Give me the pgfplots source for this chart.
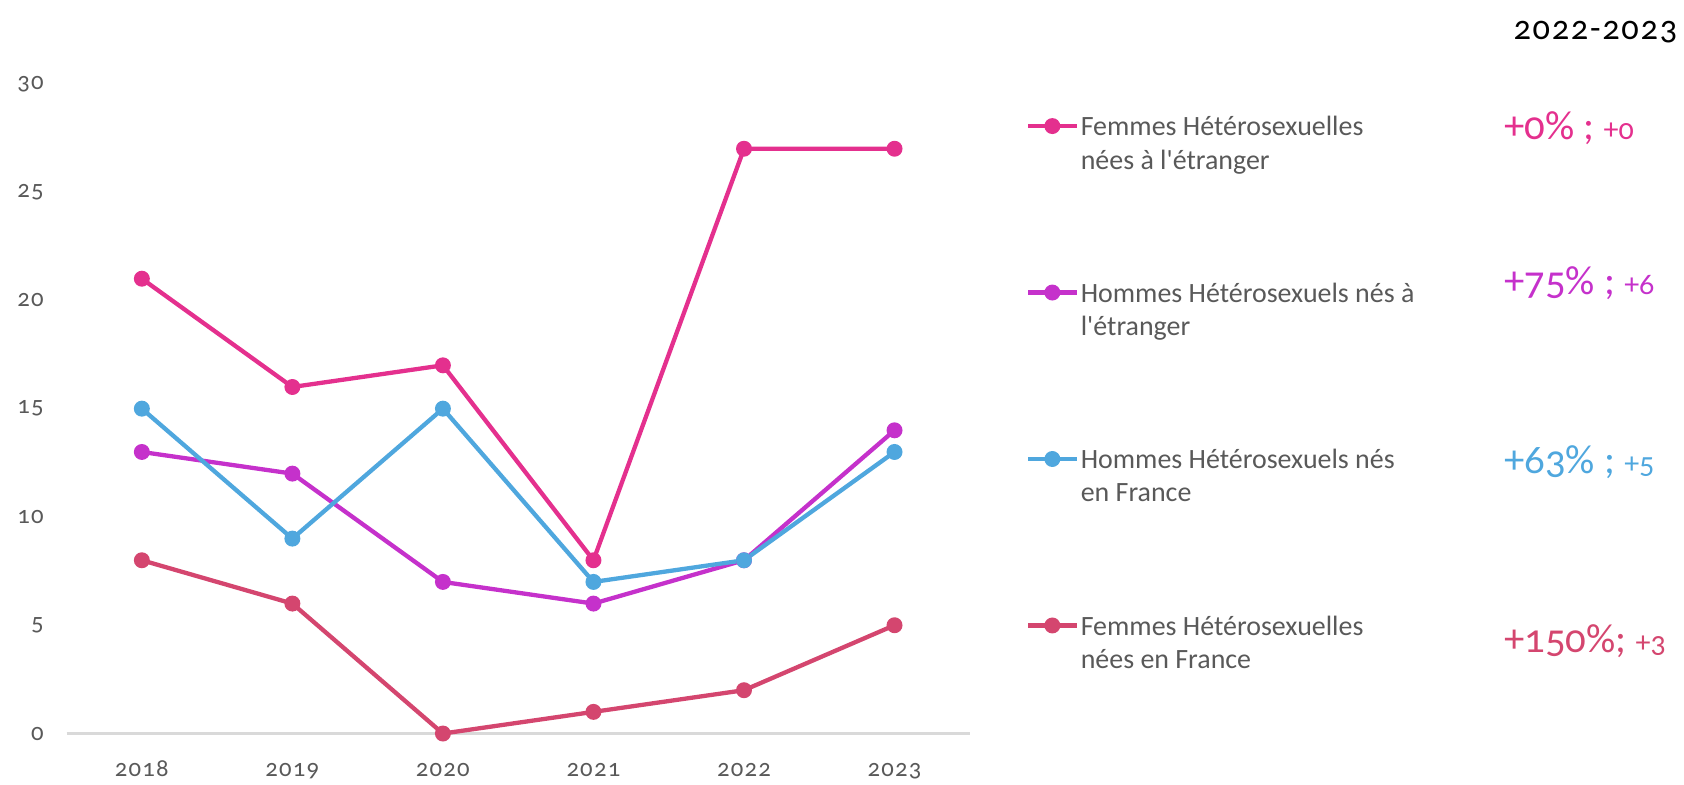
\documentclass[border=0pt]{standalone}
\usepackage{pgfplots}
\pgfplotsset{compat=1.18}
\usepackage{fontspec}
\setmainfont{Carlito}[Ligatures=TeXOff]
\newfontfamily\numfont{Carlito}[Numbers=OldStyle, LetterSpace=5]
\newfontfamily\bignum{Carlito}[Numbers=OldStyle]

\definecolor{fetr}{HTML}{E4308E}
\definecolor{hetr}{HTML}{C531CB}
\definecolor{hfr}{HTML}{4FA7DE}
\definecolor{ffr}{HTML}{D4466F}
\definecolor{txt}{HTML}{595959}

\begin{document}
\begin{tikzpicture}
\useasboundingbox (-31pt,-23.5pt) rectangle (753pt,341.5pt);
\begin{axis}[
  name=ax, at={(0,0)}, anchor=south west,
  scale only axis, width=420.5pt, height=302.5pt,
  xmin=2017.5, xmax=2023.5, ymin=0, ymax=30,
  xtick={2018,...,2023}, ytick={0,5,...,30},
  axis x line*=bottom, axis y line*=left,
  x axis line style={draw=black!15, line width=1pt, -},
  y axis line style={draw=none},
  major tick length=0pt,
  /pgf/number format/1000 sep={},
  /pgf/number format/assume math mode=true,
  tick label style={font=\numfont\fontsize{11.5}{13}\selectfont, text=txt, inner sep=0pt},
  xticklabel style={anchor=base, yshift=-20pt},
  yticklabel style={anchor=east, xshift=-10.5pt},
  clip=false,
  every axis plot/.append style={line width=2pt, mark=*, mark size=2.7pt},
  legend cell align=left,
  legend style={at={(1.0618,0.9521)}, anchor=north west, draw=none, fill=none,
    inner sep=0pt, font=\fontsize{13}{15.5}\selectfont, text=txt, row sep=31.5pt,
    nodes={inner sep=1pt, text height=24pt, text depth=20pt, align=left},
    cells={anchor=base west}},
  legend image code/.code={\draw[#1, mark repeat=2, mark phase=2]
    plot coordinates {(0pt,20pt)(11.25pt,20pt)(22.5pt,20pt)};},
]
% Femmes nées à l'étranger
\addplot[color=fetr] coordinates {(2018,21)(2019,16)(2020,17)(2021,8)(2022,27)(2023,27)};
\addlegendentry{Femmes Hétérosexuelles\\nées à l'étranger}
% Hommes nés à l'étranger
\addplot[color=hetr] coordinates {(2018,13)(2019,12)(2020,7)(2021,6)(2022,8)(2023,14)};
\addlegendentry{Hommes Hétérosexuels nés à\\l'étranger}
% Hommes nés en France
\addplot[color=hfr] coordinates {(2018,15)(2019,9)(2020,15)(2021,7)(2022,8)(2023,13)};
\addlegendentry{Hommes Hétérosexuels nés\\en France}
% Femmes nées en France
\addplot[color=ffr] coordinates {(2018,8)(2019,6)(2020,0)(2021,1)(2022,2)(2023,5)};
\addlegendentry{Femmes Hétérosexuelles\\nées en France}
\end{axis}
\begin{scope}[shift={(ax.south west)}]
\node[anchor=base east, inner sep=0pt, font=\numfont\fontsize{16}{18}\selectfont] at (750pt,323pt) {2022-2023};
\node[anchor=base west, inner sep=0pt, text=fetr] at (669pt,276.5pt)
  {\bignum\fontsize{19}{20}\selectfont +0\% ; \fontsize{14}{15}\selectfont +0};
\node[anchor=base west, inner sep=0pt, text=hetr] at (669pt,204.5pt)
  {\bignum\fontsize{19}{20}\selectfont +75\% ; \fontsize{14}{15}\selectfont +6};
\node[anchor=base west, inner sep=0pt, text=hfr] at (669pt,121pt)
  {\bignum\fontsize{19}{20}\selectfont +63\% ; \fontsize{14}{15}\selectfont +5};
\node[anchor=base west, inner sep=0pt, text=ffr] at (669pt,37.5pt)
  {\bignum\fontsize{19}{20}\selectfont +150\%; \fontsize{14}{15}\selectfont +3};
\end{scope}
\end{tikzpicture}
\end{document}
